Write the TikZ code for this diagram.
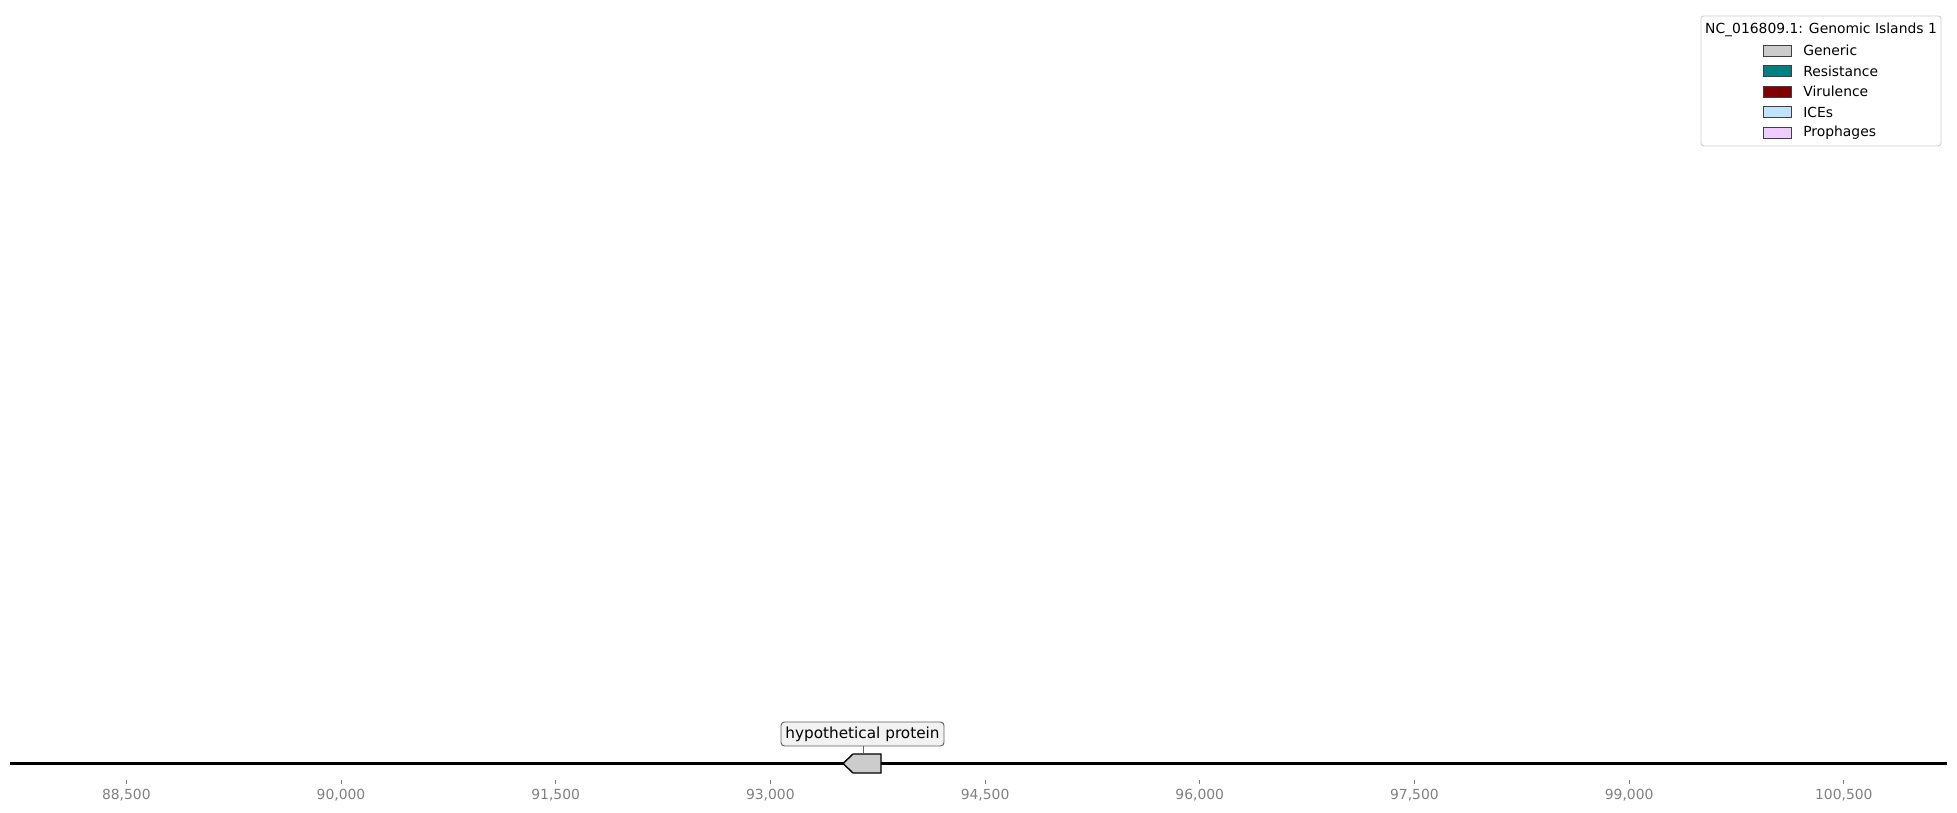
\documentclass[tikz,border=0pt]{standalone}
\usepackage{fontspec}
\setmainfont{DejaVu Sans}
\definecolor{generic}{HTML}{CCCCCC}
\definecolor{resist}{HTML}{008080}
\definecolor{viru}{HTML}{800000}
\definecolor{ices}{HTML}{C0E4FF}
\definecolor{proph}{HTML}{F0CCFF}
\definecolor{tickgray}{HTML}{808080}
\definecolor{boxedge}{HTML}{606060}
\definecolor{patchedge}{HTML}{404040}
\tikzset{
  patchbox/.style={draw=patchedge, line width=0.7pt, minimum width=28*0.72pt, minimum height=11*0.72pt, inner sep=0pt, anchor=center},
  legtext/.style={anchor=west, inner sep=0pt, font=\fontsize{10}{12}\selectfont},
  ticklab/.style={text=tickgray, inner sep=0pt, font=\fontsize{10}{12}\selectfont},
  genelabel/.style={draw=boxedge, fill=black!5, rounded corners=2.5pt, minimum width=163*0.72pt, minimum height=24*0.72pt, inner sep=0pt, line width=0.7pt, font=\fontsize{11}{13}\selectfont},
}
\begin{document}
\begin{tikzpicture}[x=0.72pt, y=-0.72pt]
\useasboundingbox (0,0) rectangle (1957,813);
% axis line
\coordinate (axL) at (10,763.5);
\coordinate (axR) at (1947,763.5);
\draw[line width=1.5pt] (axL) -- (axR);
% ticks
\foreach \lab [count=\i] in {{88,500},{90,000},{91,500},{93,000},{94,500},{96,000},{97,500},{99,000},{100,500}}{
  \pgfmathsetmacro{\xx}{126.3+(\i-1)*214.69}
  \coordinate (t\i) at (\xx,780);
  \coordinate (tb\i) at (\xx,784);
  \draw[tickgray, line width=0.5pt] (t\i) -- (tb\i);
  \node[ticklab] (tl\i) at (\xx,795.5) {\lab};
}
% gene
\draw[fill=generic, line width=1pt, line join=miter] (843,763.5) -- (853,754) -- (881,754) -- (881,773) -- (853,773) -- cycle;
\coordinate (genetop) at (863,754);
\node[genelabel] (lab) at (862.5,734) {hypothetical protein};
\draw[boxedge, line width=0.6pt] (lab.south -| genetop) -- (genetop);
% legend
\node[draw=black!20, fill=white, rounded corners=2pt, minimum width=240*0.72pt, minimum height=130*0.72pt, inner sep=0pt, line width=0.6pt] (legend) at (1821,81) {};
\node[inner sep=0pt, font=\fontsize{10}{12}\selectfont] (legtitle) at (1821,30) {NC\_016809.1: Genomic Islands 1};
\node[patchbox, fill=generic] (p1) at (1777.5,50.5) {};
\node[legtext] (l1) at (1803,50.5) {Generic};
\node[patchbox, fill=resist] (p2) at (1777.5,71) {};
\node[legtext] (l2) at (1803,71) {Resistance};
\node[patchbox, fill=viru] (p3) at (1777.5,91.5) {};
\node[legtext] (l3) at (1803,91.5) {Virulence};
\node[patchbox, fill=ices] (p4) at (1777.5,112) {};
\node[legtext] (l4) at (1803,112) {ICEs};
\node[patchbox, fill=proph] (p5) at (1777.5,132.5) {};
\node[legtext] (l5) at (1803,132.5) {Prophages};
\end{tikzpicture}
\end{document}
